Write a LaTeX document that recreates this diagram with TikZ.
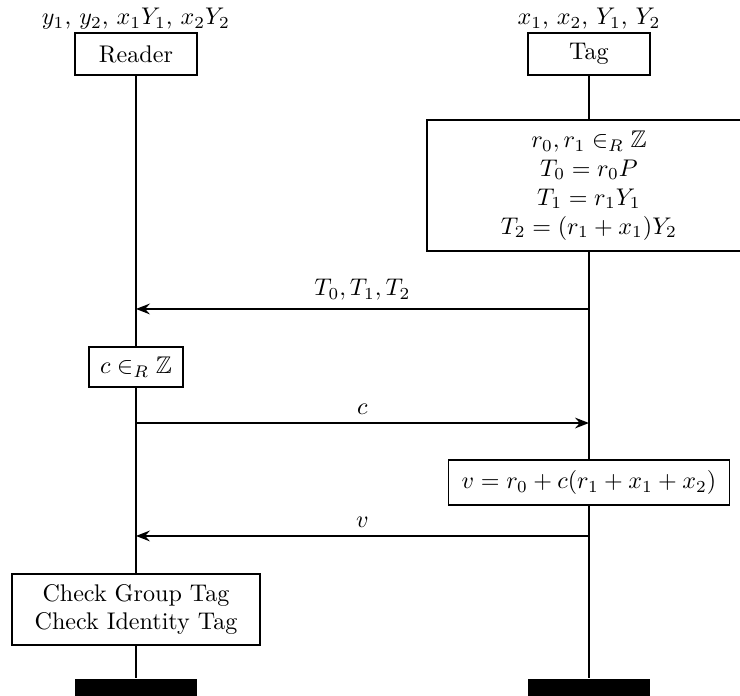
\documentclass[tikz,border=0pt]{standalone}
\usepackage{amsmath}
\usepackage{amssymb}
\usetikzlibrary{arrows.meta, positioning, backgrounds}
\tikzstyle{party}   = [rectangle, draw, fill=white, minimum width=1.78cm,
                       minimum height=0.613cm, inner sep=2pt]
\tikzstyle{action}  = [rectangle, draw, fill=white, align=center, inner sep=3pt]
\tikzstyle{lifeend} = [rectangle, fill=black, minimum width=1.79cm,
                       minimum height=0.25cm, inner sep=0pt]
\tikzstyle{msg}     = [-{Stealth[length=5.8pt, width=4.5pt, inset=2pt]}]

\begin{document}
\begin{tikzpicture}[line width=0.55pt]
  \useasboundingbox (0,0) rectangle (10.797,-10.155);

  %% parties
  \node[party] (reader) at (1.984,-0.788) {Reader};
  \node[party] (tag) at (8.593,-0.788) {Tag};
  \node[above=0pt of reader, inner sep=1pt] (readerkeys) {$y_1$, $y_2$, $x_1Y_1$, $x_2Y_2$};
  \node[above=0pt of tag, inner sep=1pt] (tagkeys) {$x_1$, $x_2$, $Y_1$, $Y_2$};

  %% tag commitment
  \node[action, minimum width=4.73cm, minimum height=1.91cm] (commit) at (8.593,-2.706)
    {$r_0, r_1 \in_R \mathbb{Z}$\\ $T_0 = r_0P$\\ $T_1 = r_1Y_1$\\ $T_2 = (r_1 + x_1)Y_2$};

  %% reader challenge
  \node[action, minimum width=1.37cm, minimum height=0.584cm] (chal) at (1.984,-5.355)
    {$c \in_R \mathbb{Z}$};

  %% tag response
  \node[action, minimum width=4.10cm, minimum height=0.657cm] (resp) at (8.593,-7.04)
    {$v = r_0 + c(r_1 + x_1 + x_2)$};

  %% reader verification
  \node[action, minimum width=3.62cm, minimum height=1.036cm] (check) at (1.984,-8.893)
    {Check Group Tag\\ Check Identity Tag};

  %% end of lifelines
  \node[lifeend] (readerend) at (1.984,-10.03) {};
  \node[lifeend] (tagend) at (8.593,-10.03) {};

  %% lifelines
  \begin{scope}[on background layer]
    \draw[line width=0.55pt] (reader.south) -- (readerend.north);
    \draw[line width=0.55pt] (tag.south) -- (tagend.north);
  \end{scope}

  %% messages
  \coordinate (tmsg1) at (8.593,-4.508);
  \coordinate (rmsg1) at (1.984,-4.508);
  \coordinate (rmsg2) at (1.984,-6.172);
  \coordinate (tmsg2) at (8.593,-6.172);
  \coordinate (tmsg3) at (8.593,-7.82);
  \coordinate (rmsg3) at (1.984,-7.82);

  \draw[msg] (tmsg1) -- node[above] {$T_0, T_1, T_2$} (rmsg1);
  \draw[msg] (rmsg2) -- node[above] {$c$} (tmsg2);
  \draw[msg] (tmsg3) -- node[above] {$v$} (rmsg3);

\end{tikzpicture}
\end{document}
